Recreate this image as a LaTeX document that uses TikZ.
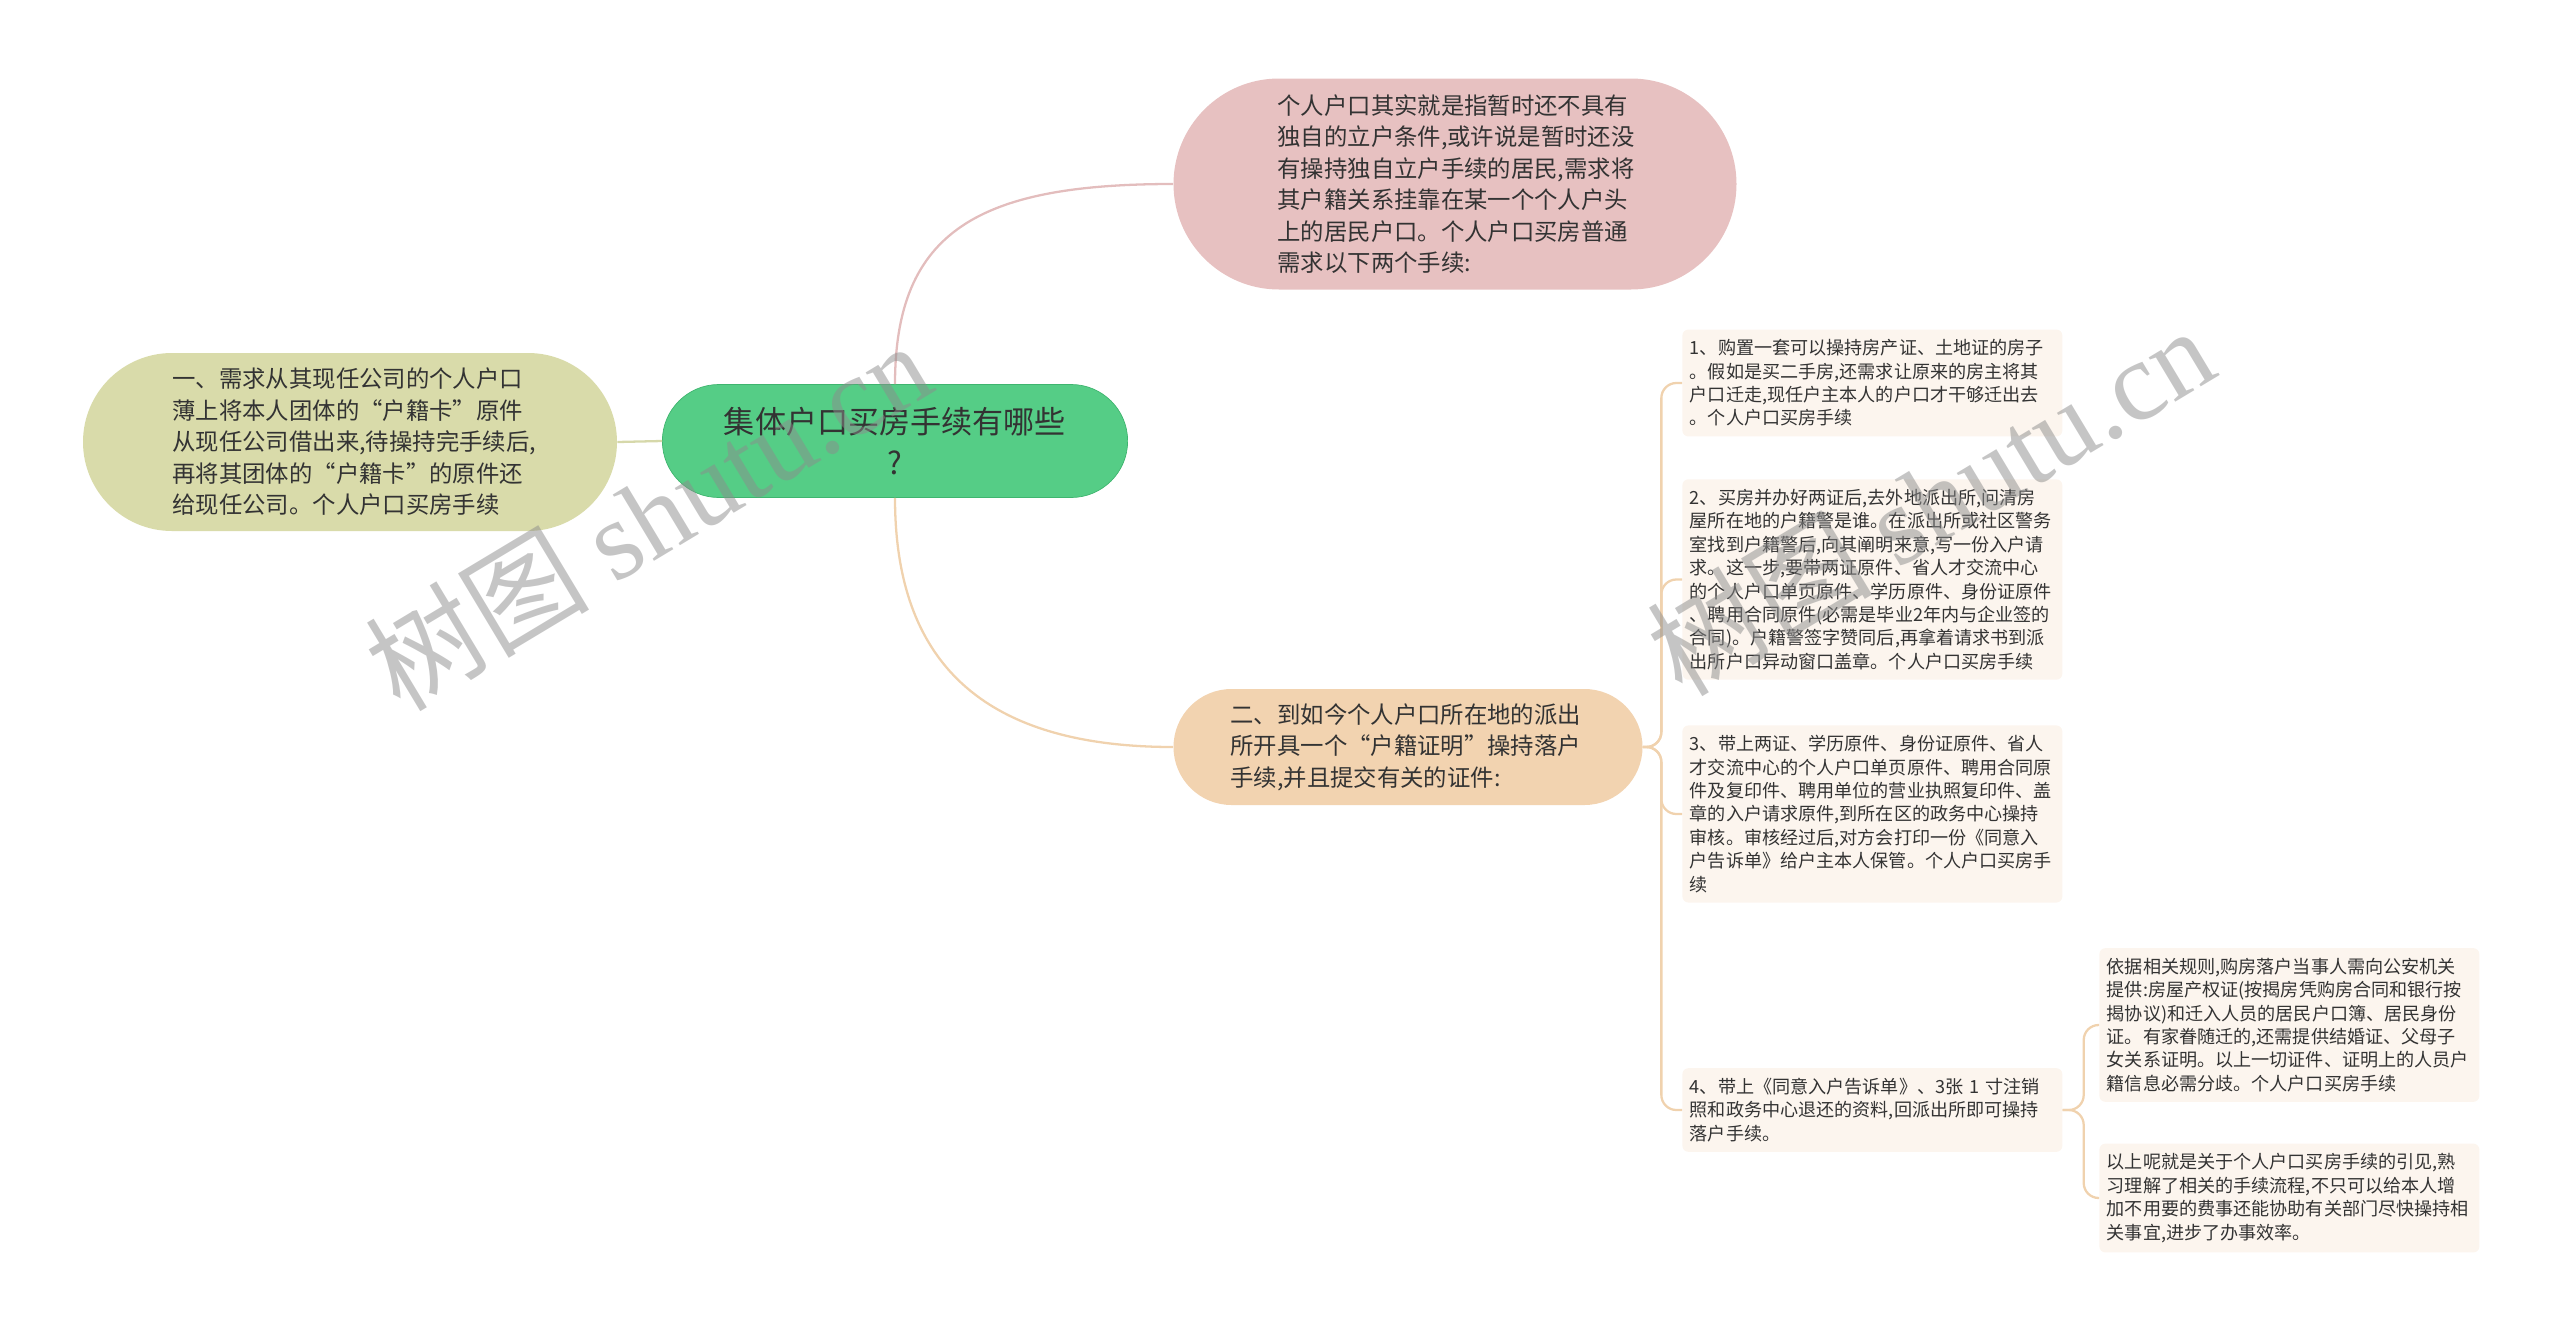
\documentclass[tikz,border=0pt]{standalone}
\usepackage{fontspec}
\setmainfont{Noto Sans CJK SC}
\newfontfamily\markfont{Liberation Serif}
\usepackage{tikz}
\usetikzlibrary{shapes.misc}

\definecolor{rootfill}{HTML}{55CD86}
\definecolor{rootedge}{HTML}{3FB56F}
\definecolor{pinkfill}{HTML}{E7C1C1}
\definecolor{olivefill}{HTML}{D9DBAA}
\definecolor{orangefill}{HTML}{F2D3B0}
\definecolor{leaffill}{HTML}{FCF5EE}
\definecolor{linkpink}{HTML}{E3BDBD}
\definecolor{linkorange}{HTML}{F0D2AE}
\definecolor{linkolive}{HTML}{D6D8AA}
\definecolor{textdark}{HTML}{333333}

\begin{document}
\begin{tikzpicture}[
    % Node styles
    root/.style={rounded rectangle, draw=rootedge, fill=rootfill, text=textdark, minimum width=9.54cm, minimum height=2.26cm, align=center, font=\fontsize{17.7}{23}\selectfont},
    topic/.style={rounded rectangle, text=textdark, text width=7.1cm, inner xsep=0.1cm, align=left, font=\fontsize{13.3}{17.9}\selectfont},
    leaf/.style={rectangle, rounded corners=0.12cm, fill=leaffill, text=textdark, text width=7.3cm, inner xsep=0.15cm, inner ysep=0.2cm, anchor=west, align=left, font=\fontsize{10.3}{13.3}\selectfont},
    link/.style={line width=1.3pt},
    branch/.style={line width=1.3pt, draw=linkorange, rounded corners=0.3cm},
    watermark/.style={font=\fontsize{64}{66}\selectfont, text=black!45, text opacity=0.5, rotate=31}
]
\useasboundingbox (0,0) rectangle (51.2,-26.64);

% Central topic
\node[root] (root) at (17.9,-8.82) {集体户口买房手续有哪些\\?};

% Main topics
\node[topic, fill=pinkfill, minimum width=11.46cm, minimum height=4.22cm] (intro) at (29.1,-3.68) {个人户口其实就是指暂时还不具有\\独自的立户条件,或许说是暂时还没\\有操持独自立户手续的居民,需求将\\其户籍关系挂靠在某一个个人户头\\上的居民户口。个人户口买房普通\\需求以下两个手续:};
\node[topic, fill=olivefill, minimum width=10.88cm, minimum height=3.56cm] (first) at (7.0,-8.84) {一、需求从其现任公司的个人户口\\薄上将本人团体的“户籍卡”原件\\从现任公司借出来,待操持完手续后,\\再将其团体的“户籍卡”的原件还\\给现任公司。个人户口买房手续};
\node[topic, fill=orangefill, minimum width=9.58cm, minimum height=2.32cm] (second) at (28.16,-14.94) {二、到如今个人户口所在地的派出\\所开具一个“户籍证明”操持落户\\手续,并且提交有关的证件:};

% Steps (right)
\node[leaf] (step1) at (33.64,-7.66) {1、购置一套可以操持房产证、土地证的房子\\。假如是买二手房,还需求让原来的房主将其\\户口迁走,现任户主本人的户口才干够迁出去\\。个人户口买房手续};
\node[leaf] (step2) at (33.64,-11.59) {2、买房并办好两证后,去外地派出所,问清房\\屋所在地的户籍警是谁。在派出所或社区警务\\室找到户籍警后,向其阐明来意,写一份入户请\\求。这一步,要带两证原件、省人才交流中心\\的个人户口单页原件、学历原件、身份证原件\\、聘用合同原件(必需是毕业2年内与企业签的\\合同)。户籍警签字赞同后,再拿着请求书到派\\出所户口异动窗口盖章。个人户口买房手续};
\node[leaf] (step3) at (33.64,-16.28) {3、带上两证、学历原件、身份证原件、省人\\才交流中心的个人户口单页原件、聘用合同原\\件及复印件、聘用单位的营业执照复印件、盖\\章的入户请求原件,到所在区的政务中心操持\\审核。审核经过后,对方会打印一份《同意入\\户告诉单》给户主本人保管。个人户口买房手\\续};
\node[leaf] (step4) at (33.64,-22.2) {4、带上《同意入户告诉单》、3张~1~寸注销\\照和政务中心退还的资料,回派出所即可操持\\落户手续。};

% Notes on step 4
\node[leaf] (rule) at (41.98,-20.5) {依据相关规则,购房落户当事人需向公安机关\\提供:房屋产权证(按揭房凭购房合同和银行按\\揭协议)和迁入人员的居民户口簿、居民身份\\证。有家眷随迁的,还需提供结婚证、父母子\\女关系证明。以上一切证件、证明上的人员户\\籍信息必需分歧。个人户口买房手续};
\node[leaf] (summary) at (41.98,-23.96) {以上呢就是关于个人户口买房手续的引见,熟\\习理解了相关的手续流程,不只可以给本人增\\加不用要的费事还能协助有关部门尽快操持相\\关事宜,进步了办事效率。};

% Links from the central topic
\draw[link, draw=linkpink] (root.north) .. controls (17.9,-4.6) and (19.6,-3.68) .. (intro.west);
\draw[link, draw=linkorange] (root.south) .. controls (17.9,-13.2) and (19.6,-14.94) .. (second.west);
\draw[link, draw=linkolive] (root.west) -- (first.east);

% Branches to the steps
\draw[branch] (second.east) -- ++(0.37,0) |- (step1.west);
\draw[branch] (second.east) -- ++(0.37,0) |- (step2.west);
\draw[branch] (second.east) -- ++(0.37,0) |- (step3.west);
\draw[branch] (second.east) -- ++(0.37,0) |- (step4.west);
\draw[branch] (step4.east) -- ++(0.42,0) |- (rule.west);
\draw[branch] (step4.east) -- ++(0.42,0) |- (summary.west);

% Watermarks
\node[watermark] (mark1) at (12.95,-10.3) {树图 {\markfont shutu.cn}};
\node[watermark] (mark2) at (38.6,-10.0) {树图 {\markfont shutu.cn}};

\end{tikzpicture}
\end{document}
